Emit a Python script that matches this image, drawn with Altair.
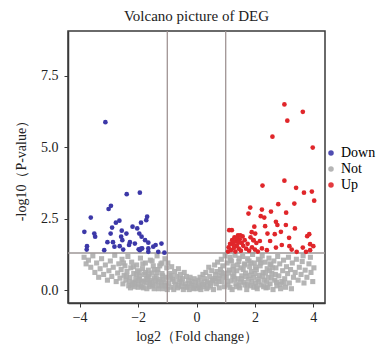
import altair as alt
import pandas as pd

# Down-regulated genes (blue)
down_x = [-3.12, -2.39, -1.94, -2.93, -3.01, -3.62, -1.69, -1.72, -2.64, -2.76, -2.19, -1.90,
          -2.89, -2.03, -3.84, -3.50, -3.47, -2.94, -2.56, -2.40, -1.96, -2.58, -1.88, -3.05,
          -2.86, -2.54, -2.28, -2.11, -1.76, -1.65, -3.75, -3.76, -3.16, -2.81, -2.63, -2.51,
          -2.31, -1.94, -1.86, -1.65, -1.40, -1.20, -1.65, -1.31, -1.10, -1.48, -1.98, -1.90]
down_y = [5.88, 3.36, 3.41, 2.95, 2.84, 2.54, 2.57, 2.45, 2.43, 2.36, 2.22, 2.36,
          2.19, 2.16, 2.04, 1.98, 1.87, 1.98, 2.08, 1.98, 1.98, 1.87, 1.87, 1.68,
          1.68, 1.75, 1.68, 1.63, 1.75, 1.66, 1.54, 1.42, 1.40, 1.52, 1.54, 1.42,
          1.58, 1.40, 1.46, 1.46, 1.58, 1.63, 1.34, 1.34, 1.31, 1.52, 1.43, 1.45]

# Up-regulated genes (red)
up_x = [3.01, 3.64, 3.11, 2.60, 3.98, 2.26, 3.41, 3.68, 3.95, 4.03, 1.84, 1.78,
        2.24, 2.20, 2.32, 2.55, 2.80, 3.07, 3.35, 1.98, 2.35, 2.72, 2.77, 3.06,
        3.37, 1.89, 2.43, 2.68, 2.89, 3.17, 3.79, 3.86, 1.21, 2.17, 2.52, 3.89,
        4.00, 2.72, 3.26, 3.43, 3.75, 3.64, 3.89, 2.92, 3.18, 2.24, 2.41, 3.01,
        1.15, 1.22, 1.30, 1.35, 1.42, 1.48, 1.55, 1.38, 1.28, 1.18, 1.45, 1.60,
        1.52, 1.65, 1.70, 1.33, 1.25, 1.40, 1.58, 1.10, 1.75, 1.80, 1.90, 2.00,
        2.05, 1.95, 1.85, 2.10, 1.08, 1.12, 2.01, 1.95, 1.36, 1.44, 1.50, 1.26]
up_y = [6.50, 6.24, 5.93, 5.37, 4.99, 3.66, 3.58, 3.41, 3.45, 3.13, 2.89, 2.68,
        2.82, 2.59, 2.54, 2.75, 3.01, 2.71, 3.03, 2.22, 2.24, 2.39, 2.28, 2.28,
        2.16, 2.03, 1.98, 1.96, 2.04, 1.83, 1.89, 1.96, 2.10, 1.72, 1.72, 1.61,
        1.54, 1.49, 1.42, 1.34, 1.34, 1.49, 1.40, 1.58, 1.54, 1.46, 1.40, 3.83,
        1.62, 1.75, 1.85, 1.70, 1.92, 1.78, 1.65, 1.55, 1.48, 1.40, 1.45, 1.55,
        1.38, 1.75, 1.45, 1.35, 1.60, 1.80, 1.88, 1.50, 1.62, 1.38, 1.50, 1.42,
        1.65, 1.75, 1.85, 1.35, 1.35, 2.10, 1.98, 1.75, 1.82, 1.66, 1.92, 1.70]

# Not significant genes (grey)
not_x = [-3.85, -3.78, -3.70, -3.62, -3.55, -3.48, -3.42, -3.35, -3.30, -3.25, -3.18, -3.12,
         -3.05, -3.00, -2.95, -2.90, -2.85, -2.80, -2.75, -2.70, -2.66, -2.62,
         -2.58, -2.55, -2.52, -2.48, -2.45, -2.42, -2.38, -2.35, -2.32, -2.28, -2.25, -2.22,
         -2.18, -2.15, -2.12, -2.08, -2.05, -2.02, -1.98, -1.95, -1.92, -1.88, -1.85, -1.82,
         -1.78, -1.75, -1.72, -1.68, -1.65, -1.62, -1.58, -1.55, -1.52, -1.48, -1.45, -1.42,
         -1.38, -1.35, -1.32, -1.28, -1.25, -1.22, -1.18, -1.15, -1.12, -1.08, -1.05, -1.02,
         -2.30, -2.20, -2.10, -2.00, -1.90, -1.80, -1.70, -1.60, -1.50, -1.40, -1.30, -1.20,
         -1.10, -2.40, -1.95, -1.65, -1.35, -1.15, -1.00, -1.45, -1.75, -2.05,
         -0.98, -0.95, -0.92, -0.88, -0.85, -0.82, -0.78, -0.75, -0.72, -0.68, -0.65, -0.62,
         -0.58, -0.55, -0.52, -0.48, -0.45, -0.42, -0.38, -0.35, -0.32, -0.28, -0.25, -0.22,
         -0.18, -0.15, -0.12, -0.08, -0.05, -0.02, 0.02,
         0.05, 0.08, 0.12, 0.15, 0.18, 0.22, 0.25, 0.28, 0.32, 0.35, 0.38, 0.42,
         0.45, 0.48, 0.52, 0.55, 0.58, 0.62, 0.65, 0.68, 0.72, 0.75, 0.78, 0.82,
         0.85, 0.88, 0.92, 0.95, 0.98, 0.40, 0.60, 0.80, 0.70, 0.90,
         1.02, 1.05, 1.08, 1.12, 1.15, 1.18, 1.22, 1.25, 1.28, 1.32, 1.35, 1.38,
         1.42, 1.45, 1.48, 1.52, 1.55, 1.58, 1.62, 1.65, 1.68, 1.72, 1.75, 1.78,
         1.82, 1.85, 1.88, 1.92, 1.95, 1.98, 2.02, 2.05, 2.08, 2.12, 2.15, 2.18,
         2.22, 2.25, 2.28, 2.32, 2.35, 2.38, 2.42, 2.45, 2.48, 2.52, 2.55, 2.58,
         2.62, 2.65, 2.68,
         1.10, 1.30, 1.50, 1.70, 1.90, 2.10, 2.30, 2.50, 1.20, 1.40, 1.60, 1.80,
         2.00, 2.20, 2.40, 2.60, 1.15, 1.45, 1.75, 2.05,
         2.72, 2.75, 2.78, 2.82, 2.85, 2.88, 2.92, 2.95, 2.98, 3.02, 3.05, 3.08,
         3.12, 3.15, 3.18, 3.22, 3.25, 3.28, 3.32, 3.38, 3.42, 3.48, 3.52, 3.58,
         3.62, 3.68, 3.72, 3.78, 3.85, 3.92, 3.98, 4.02, 3.90, 3.65,
         -2.26, -2.14, -2.00, -1.86, -1.72, -1.58, -1.44, -1.30, -1.16, -1.04, -0.90, -0.76,
         -0.62, -0.50, -0.36, -0.24, -0.10, 0.10, 0.24, 0.36, 0.50, 0.64, 0.76, 0.90,
         1.06, 1.24, 1.36, 1.54, 1.66, 1.84, 1.96, 2.14, 2.26, 2.44, 2.56, 2.74,
         2.86, 3.00, -1.96, -1.62, -1.26, -0.86, -0.56, 0.56, 0.86, 1.26, 1.64, 2.02,
         2.36, 2.70, -2.50, -2.16, -1.84, -1.52, -1.18, 1.16, 1.46, 1.86, 2.18, 2.52]
not_y = [1.15, 0.92, 1.05, 0.80, 1.20, 0.62, 0.95, 0.45, 0.75, 1.10, 0.55, 0.88,
         0.35, 0.68, 1.02, 0.48, 0.80, 1.22, 0.30, 0.60, 0.92, 0.42,
         0.72, 1.08, 0.22, 0.52, 0.85, 0.35, 0.65, 1.18, 0.15, 0.45, 0.78, 0.98,
         0.28, 0.58, 0.12, 0.40, 0.88, 0.68, 0.20, 0.50, 1.12, 0.32, 0.75, 0.08,
         0.55, 0.95, 0.25, 0.42, 0.70, 0.12, 1.05, 0.35, 0.60, 0.85, 0.05, 0.22,
         0.48, 1.20, 0.72, 0.15, 0.38, 0.92, 0.58, 0.05, 0.28, 1.10, 0.45, 0.78,
         0.30, 0.18, 0.25, 0.10, 0.15, 0.30, 0.05, 0.28, 0.15, 0.32, 0.05, 0.22,
         0.15, 0.48, 0.38, 0.48, 0.62, 0.38, 0.02, 0.72, 0.62, 0.55,
         0.95, 0.25, 0.58, 0.10, 0.82, 0.38, 0.02, 0.65, 0.20, 0.48, 0.08, 0.75,
         0.30, 0.55, 0.12, 0.40, 0.02, 0.62, 0.22, 0.48, 0.10, 0.35, 0.02, 0.45,
         0.18, 0.30, 0.05, 0.40, 0.15, 0.28, 0.05,
         0.35, 0.18, 0.45, 0.02, 0.28, 0.55, 0.12, 0.40, 0.62, 0.05, 0.25, 0.80,
         0.48, 0.15, 0.68, 0.35, 0.02, 0.88, 0.55, 0.22, 0.98, 0.40, 0.08, 0.72,
         1.08, 0.30, 0.58, 0.12, 1.20, 0.10, 0.40, 0.50, 0.65, 0.85,
         0.45, 0.95, 0.18, 0.70, 1.15, 0.32, 0.02, 0.85, 0.55, 1.22, 0.22, 0.68,
         0.40, 1.00, 0.08, 0.78, 0.50, 1.18, 0.28, 0.92, 0.60, 0.02, 1.10, 0.38,
         0.82, 0.15, 0.65, 1.25, 0.45, 0.95, 0.25, 0.72, 0.05, 1.08, 0.52, 0.85,
         0.18, 1.20, 0.62, 0.35, 0.98, 0.08, 0.75, 0.45, 1.12, 0.22, 0.88, 0.58,
         0.02, 1.02, 0.35,
         0.60, 0.38, 0.28, 0.48, 0.30, 0.38, 0.12, 0.68, 1.02, 0.88, 0.72, 1.02,
         0.58, 0.95, 0.28, 0.78, 0.10, 0.15, 0.20, 0.12,
         0.78, 0.15, 1.18, 0.50, 0.92, 0.05, 0.30, 0.68, 1.05, 0.40, 0.10, 0.82,
         0.58, 1.15, 0.25, 0.72, 0.05, 0.95, 0.45, 0.62, 1.08, 0.35, 0.80, 0.55,
         1.00, 0.25, 0.70, 0.45, 0.92, 0.62, 0.30, 0.78, 1.15, 1.20,
         0.08, 0.22, 0.35, 0.12, 0.38, 0.20, 0.42, 0.30, 0.50, 0.15, 0.42, 0.30,
         0.15, 0.25, 0.12, 0.22, 0.08, 0.10, 0.20, 0.30, 0.25, 0.40, 0.30, 0.48,
         0.30, 0.48, 0.12, 0.40, 0.18, 0.52, 0.10, 0.30, 0.48, 0.10, 0.42, 0.28,
         0.20, 0.25, 0.62, 0.55, 0.85, 0.50, 0.38, 0.32, 0.62, 0.72, 0.88, 0.80,
         0.60, 0.55, 0.95, 0.82, 0.92, 1.02, 0.95, 1.05, 1.12, 0.95, 1.05, 0.92]

categories = ["Down", "Not", "Up"]
colors = ["#3c38a8", "#adadad", "#e0262a"]

fc_cut = [-1, 1]
p_cut = [1.3]

df_not = pd.DataFrame({"x": not_x, "y": not_y, "group": "Not"})
df_sig = pd.concat([
    pd.DataFrame({"x": down_x, "y": down_y, "group": "Down"}),
    pd.DataFrame({"x": up_x, "y": up_y, "group": "Up"}),
])

serif = "Liberation Serif"

xs = alt.Scale(domain=[-4.4, 4.4], nice=False, zero=False)
ys = alt.Scale(domain=[-0.45, 9.07], nice=False, zero=False)
cs = alt.Scale(domain=categories, range=colors)

x_axis = alt.Axis(values=[-4, -2, 0, 2, 4], title="log2（Fold change）", grid=False,
                  tickSize=4, labelPadding=3, titlePadding=5)
y_axis = alt.Axis(values=[0, 2.5, 5, 7.5], format=".1f", title="-log10（P-value）", grid=False,
                  tickSize=4, labelPadding=6, titlePadding=12)

legend = alt.Legend(title=None, orient="none", legendX=256, legendY=115,
                    symbolSize=30, symbolType="circle", labelFontSize=14, labelFont=serif,
                    rowPadding=2, labelOffset=3, symbolOffset=0)

grey = alt.Chart(df_not).mark_point(filled=True, size=26, opacity=0.9, shape="square").encode(
    x=alt.X("x:Q", scale=xs, axis=x_axis),
    y=alt.Y("y:Q", scale=ys, axis=y_axis),
    color=alt.Color("group:N", scale=cs, legend=legend),
)

rules_v = alt.Chart(pd.DataFrame({"v": fc_cut})).mark_rule(color="#a09494", strokeWidth=1.3).encode(
    x=alt.X("v:Q", scale=xs)
)
rules_h = alt.Chart(pd.DataFrame({"h": p_cut})).mark_rule(color="#9c9696", strokeWidth=1.3).encode(
    y=alt.Y("h:Q", scale=ys)
)

sig = alt.Chart(df_sig).mark_circle(size=22, opacity=1).encode(
    x=alt.X("x:Q", scale=xs),
    y=alt.Y("y:Q", scale=ys),
    color=alt.Color("group:N", scale=cs, legend=legend),
)

chart = alt.layer(grey, rules_v, rules_h, sig).properties(
    width=257, height=272,
    title=alt.TitleParams("Volcano picture of DEG", font=serif, fontSize=15,
                          fontWeight="normal", color="#222", offset=6),
    autosize=alt.AutoSizeParams(type="none"),
    padding={"left": 68, "top": 31, "right": 51, "bottom": 42},
).configure(
    background="white"
).configure_view(
    stroke="#3a3a3a", strokeWidth=1.5
).configure_axis(
    labelFont=serif, titleFont=serif, labelFontSize=14, titleFontSize=14,
    titleFontWeight="normal", labelColor="#222", titleColor="#222",
    domainColor="#3a3a3a", tickColor="#3a3a3a", domainWidth=1.5
)

chart.save("out.html", embed_options={"renderer": "svg", "actions": False})
